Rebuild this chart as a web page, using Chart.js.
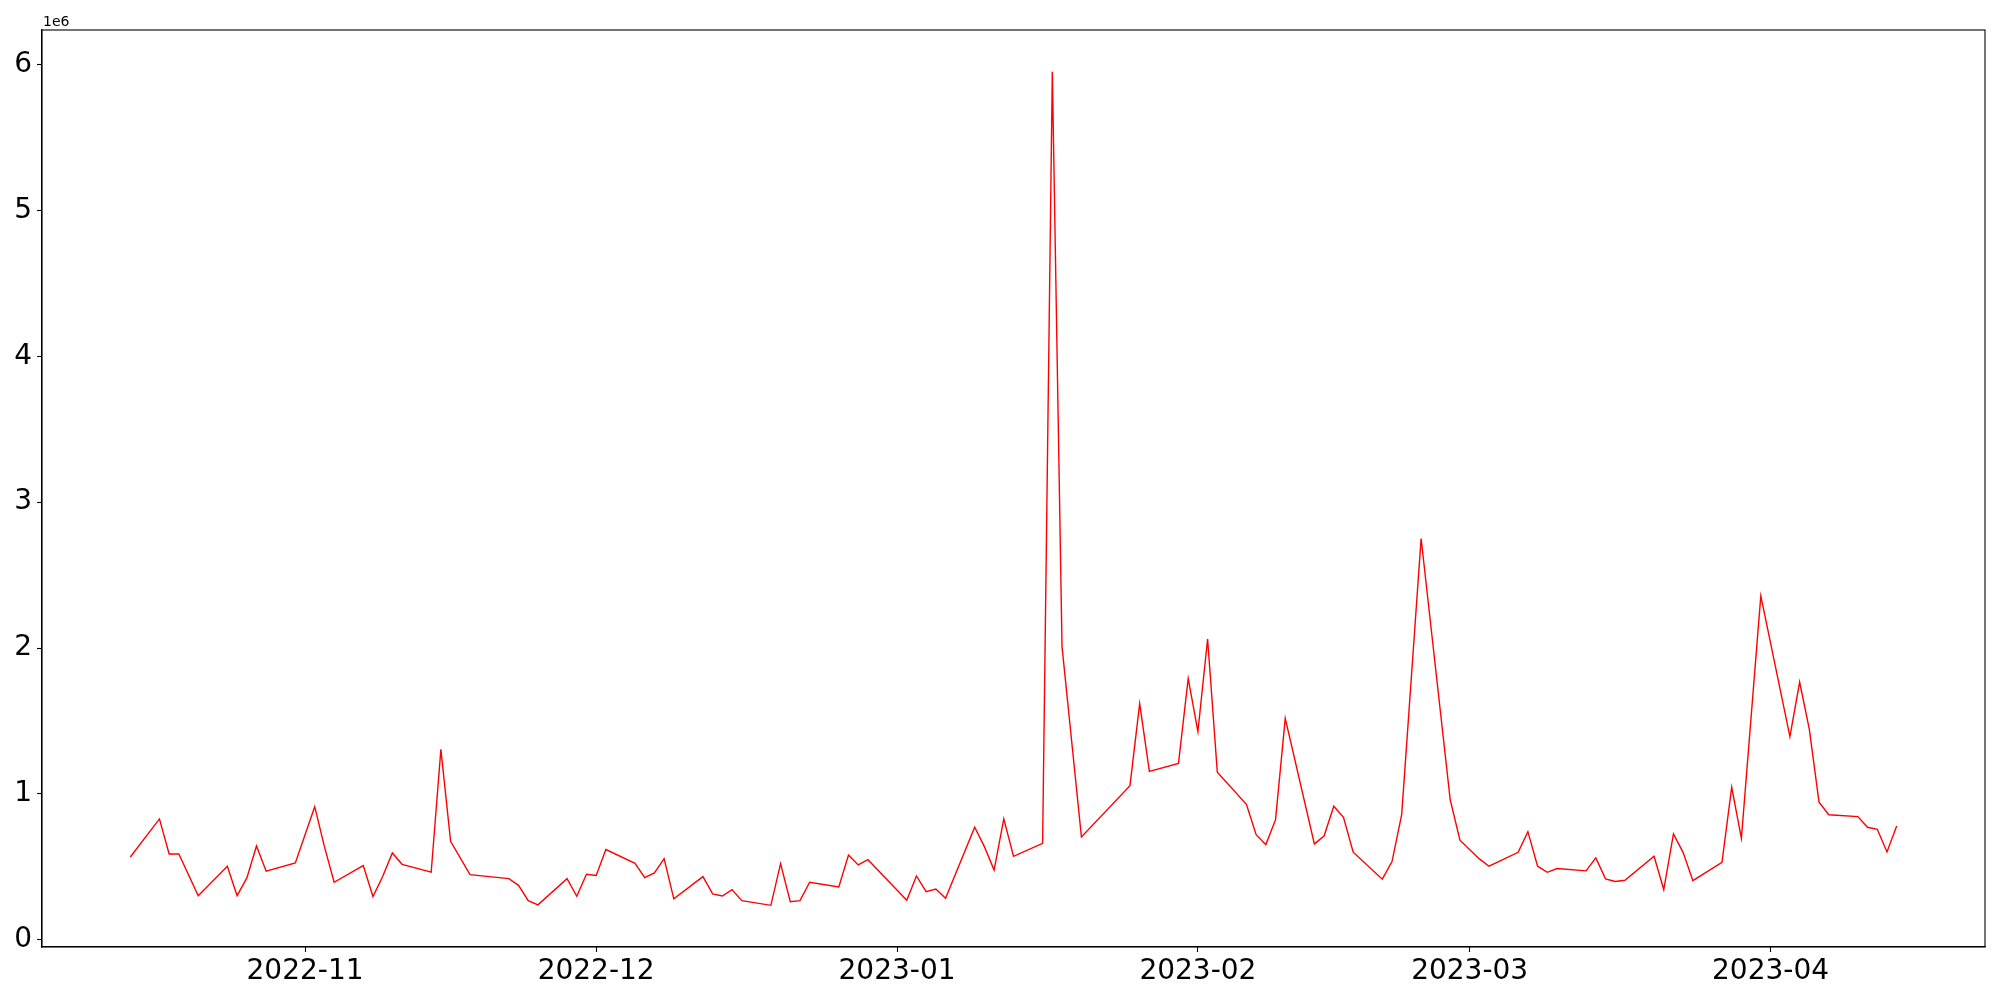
<!DOCTYPE html>
<html>
<head>
<meta charset="utf-8">
<script src="https://cdn.jsdelivr.net/npm/chart.js"></script>
<style>
  html, body { margin: 0; padding: 0; background: #fff; }
  canvas { display: block; }
</style>
</head>
<body>
<canvas id="c" width="2000" height="1000"></canvas>
<script>
// ---- data ----
const dates = [
  '2022-10-14','2022-10-17','2022-10-18','2022-10-19','2022-10-21','2022-10-24','2022-10-25','2022-10-26','2022-10-27','2022-10-28',
  '2022-10-31','2022-11-02','2022-11-03','2022-11-04','2022-11-07','2022-11-08','2022-11-09','2022-11-10','2022-11-11','2022-11-14',
  '2022-11-15','2022-11-16','2022-11-18','2022-11-22','2022-11-23','2022-11-24','2022-11-25','2022-11-28','2022-11-29','2022-11-30',
  '2022-12-01','2022-12-02','2022-12-05','2022-12-06','2022-12-07','2022-12-08','2022-12-09','2022-12-12','2022-12-13','2022-12-14',
  '2022-12-15','2022-12-16','2022-12-19','2022-12-20','2022-12-21','2022-12-22','2022-12-23','2022-12-26','2022-12-27','2022-12-28',
  '2022-12-29','2023-01-02','2023-01-03','2023-01-04','2023-01-05','2023-01-06','2023-01-09','2023-01-10','2023-01-11','2023-01-12',
  '2023-01-13','2023-01-16','2023-01-17','2023-01-18','2023-01-20','2023-01-25','2023-01-26','2023-01-27','2023-01-30','2023-01-31',
  '2023-02-01','2023-02-02','2023-02-03','2023-02-06','2023-02-07','2023-02-08','2023-02-09','2023-02-10','2023-02-13','2023-02-14',
  '2023-02-15','2023-02-16','2023-02-17','2023-02-20','2023-02-21','2023-02-22','2023-02-24','2023-02-27','2023-02-28','2023-03-02',
  '2023-03-03','2023-03-06','2023-03-07','2023-03-08','2023-03-09','2023-03-10','2023-03-13','2023-03-14','2023-03-15','2023-03-16',
  '2023-03-17','2023-03-20','2023-03-21','2023-03-22','2023-03-23','2023-03-24','2023-03-27','2023-03-28','2023-03-29','2023-03-31',
  '2023-04-03','2023-04-04','2023-04-05','2023-04-06','2023-04-07','2023-04-10','2023-04-11','2023-04-12','2023-04-13','2023-04-14'
];
const values = [
  568000, 829000, 589000, 589000, 303000, 505000, 303000, 423000, 644000, 471000,
  527000, 913000, 639000, 395000, 509000, 297000, 434000, 596000, 518000, 464000,
  1306000, 676000, 447000, 420000, 374000, 269000, 240000, 420000, 299000, 450000,
  441000, 619000, 525000, 427000, 459000, 557000, 281000, 434000, 315000, 301000,
  345000, 269000, 237000, 523000, 262000, 269000, 395000, 363000, 582000, 514000,
  550000, 272000, 438000, 331000, 349000, 285000, 772000, 639000, 479000, 829000,
  573000, 662000, 5950000, 2009000, 705000, 1057000, 1619000, 1155000, 1210000, 1792000,
  1427000, 2062000, 1149000, 929000, 721000, 653000, 824000, 1518000, 658000, 712000,
  916000, 840000, 601000, 416000, 537000, 860000, 2751000, 959000, 683000, 555000,
  505000, 600000, 742000, 505000, 463000, 489000, 473000, 562000, 418000, 400000,
  409000, 573000, 345000, 726000, 598000, 406000, 532000, 1046000, 696000, 2358000,
  1393000, 1767000, 1443000, 943000, 858000, 845000, 772000, 758000, 603000, 781000
];
const xTickLabels = ['2022-11','2022-12','2023-01','2023-02','2023-03','2023-04'];
const yTickValues = [0, 1, 2, 3, 4, 5, 6];
const yOffsetLabel = '1e6';

// ---- helpers ----
function toDay(s) {
  const p = s.split('-').map(Number);
  return Date.UTC(p[0], p[1] - 1, p[2] || 1) / 86400000;
}
const xs = dates.map(toDay);
const xMinData = Math.min(...xs), xMaxData = Math.max(...xs);
const xPad = (xMaxData - xMinData) * 0.05;
const yMinData = Math.min(...values), yMaxData = Math.max(...values);
const yPad = (yMaxData - yMinData) * 0.05;
const monthTickDays = xTickLabels.map(toDay);

const FONT = "'DejaVu Sans', sans-serif";

const framePlugin = {
  id: 'frame',
  afterDraw(chart) {
    const { ctx, chartArea: a } = chart;
    ctx.save();
    ctx.strokeStyle = '#000';
    ctx.lineWidth = 1.1;
    ctx.strokeRect(a.left, a.top, a.right - a.left, a.bottom - a.top);
    ctx.fillStyle = '#000';
    ctx.font = "14px " + FONT;
    ctx.textAlign = 'left';
    ctx.textBaseline = 'alphabetic';
    ctx.fillText(yOffsetLabel, a.left + 1, a.top - 4);
    ctx.restore();
  }
};

new Chart(document.getElementById('c'), {
  type: 'line',
  data: {
    datasets: [{
      data: xs.map((x, i) => ({ x: x, y: values[i] })),
      borderColor: '#ff0000',
      borderWidth: 1.4,
      pointRadius: 0,
      tension: 0,
      fill: false
    }]
  },
  options: {
    responsive: false,
    animation: false,
    devicePixelRatio: 1,
    layout: { padding: { top: 30, right: 15, left: 0, bottom: 0 } },
    plugins: { legend: { display: false }, tooltip: { enabled: false } },
    scales: {
      x: {
        type: 'linear',
        min: xMinData - xPad,
        max: xMaxData + xPad,
        afterBuildTicks: s => { s.ticks = monthTickDays.map(v => ({ value: v })); },
        afterFit: s => { s.height = 53; },
        ticks: {
          autoSkip: false, maxRotation: 0, minRotation: 0,
          color: '#000', padding: 3,
          font: { size: 28, family: FONT },
          callback: v => { const i = monthTickDays.indexOf(v); return i >= 0 ? xTickLabels[i] : ''; }
        },
        grid: { drawOnChartArea: false, drawTicks: true, tickLength: 5, color: '#000', tickWidth: 1.1 },
        border: { display: true, color: '#000', width: 1.1 }
      },
      y: {
        type: 'linear',
        min: yMinData - yPad,
        max: yMaxData + yPad,
        afterBuildTicks: s => { s.ticks = yTickValues.map(v => ({ value: v * 1e6 })); },
        afterFit: s => { s.width = 42; },
        ticks: {
          color: '#000', padding: 5,
          font: { size: 28, family: FONT },
          callback: v => String(Math.round(v / 1e6))
        },
        grid: { drawOnChartArea: false, drawTicks: true, tickLength: 5, color: '#000', tickWidth: 1.1 },
        border: { display: true, color: '#000', width: 1.1 }
      }
    }
  },
  plugins: [framePlugin]
});
</script>
</body>
</html>
